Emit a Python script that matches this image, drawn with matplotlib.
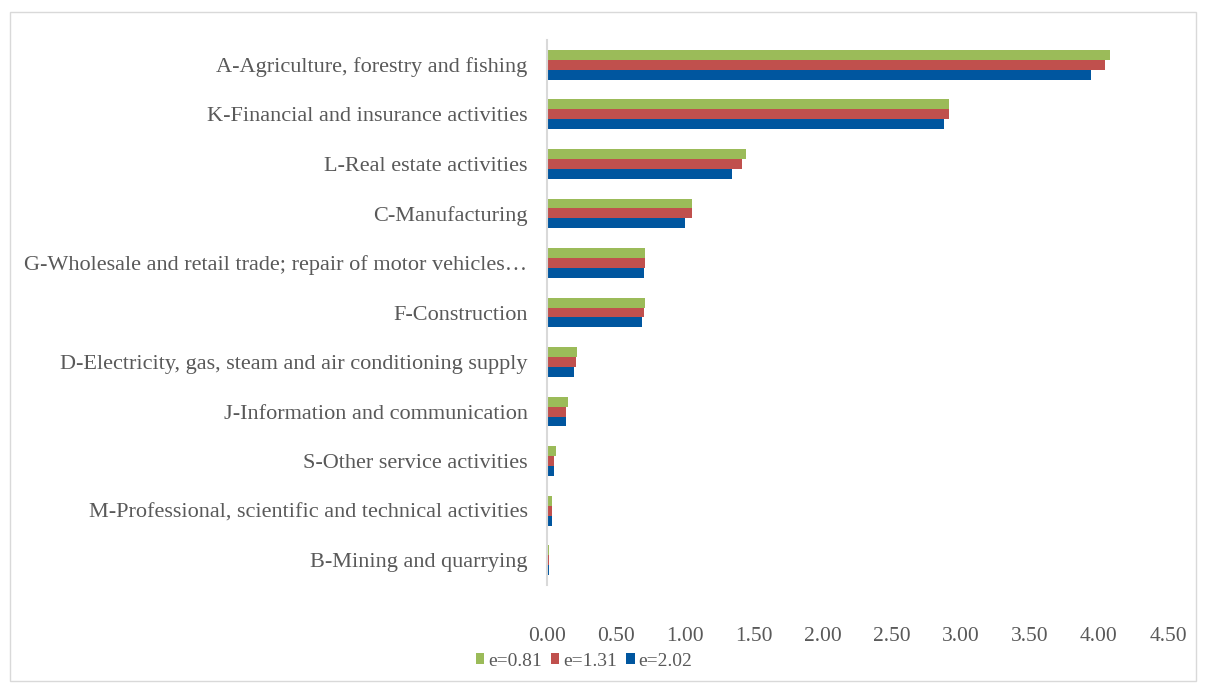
import matplotlib
matplotlib.use("Agg")
import matplotlib.pyplot as plt
import numpy as np
from matplotlib.patches import Rectangle

categories = [
    "A-Agriculture, forestry and fishing",
    "K-Financial and insurance activities",
    "L-Real estate activities",
    "C-Manufacturing",
    "G-Wholesale and retail trade; repair of motor vehicles\u2026",
    "F-Construction",
    "D-Electricity, gas, steam and air conditioning supply",
    "J-Information and communication",
    "S-Other service activities",
    "M-Professional, scientific and technical activities",
    "B-Mining and quarrying",
]
series_names = ["e=0.81", "e=1.31", "e=2.02"]
e081 = [4.08, 2.91, 1.44, 1.05, 0.71, 0.71, 0.22, 0.15, 0.065, 0.035, 0.012]
e131 = [4.04, 2.91, 1.41, 1.05, 0.71, 0.70, 0.21, 0.14, 0.05, 0.035, 0.012]
e202 = [3.94, 2.88, 1.34, 1.00, 0.70, 0.69, 0.195, 0.14, 0.05, 0.035, 0.012]
xticks = [0.0, 0.5, 1.0, 1.5, 2.0, 2.5, 3.0, 3.5, 4.0, 4.5]

colors = ["#9BBB59", "#C0504D", "#00569F"]
txt = "#595959"
font = ["Liberation Serif", "DejaVu Serif"]
plt.rcParams["font.family"] = font

W, H = 1206, 691
fig = plt.figure(figsize=(W / 100, H / 100), dpi=100)
fig.patches.append(Rectangle((10 / W, 10 / H), (W - 20) / W, (H - 22) / H,
                             transform=fig.transFigure, fill=False,
                             edgecolor="#D9D9D9", linewidth=1.0))

left, right = 547 / W, 1168 / W
top, bottom = 1 - 40 / H, 1 - 585 / H
ax = fig.add_axes([left, bottom, right - left, top - bottom])

n = len(categories)
y = np.arange(n)
bh = 0.2
for i, (vals, c, name) in enumerate(zip([e081, e131, e202], colors, series_names)):
    ax.barh(y + (i - 1) * bh, vals, height=bh, color=c, label=name, linewidth=0)

ax.set_ylim(n - 0.5, -0.5)
ax.set_xlim(0, 4.5)
ax.set_xticks(xticks)
ax.set_xticklabels([f"{v:.2f}" for v in xticks], color=txt, fontsize=15.5)
ax.set_yticks(y)
ax.set_yticklabels(categories, color=txt, fontsize=16)
ax.tick_params(axis="y", length=0, pad=14)
ax.tick_params(axis="x", length=0, pad=30)
for s in ["top", "right", "bottom"]:
    ax.spines[s].set_visible(False)
ax.spines["left"].set_color("#D9D9D9")
ax.spines["left"].set_linewidth(1.5)

leg = fig.legend(loc="center", bbox_to_anchor=(584 / W, 1 - 661 / H), ncol=3,
                 frameon=False, fontsize=14, handlelength=0.45, handleheight=0.45,
                 handletextpad=0.2, columnspacing=0.45)
for t in leg.get_texts():
    t.set_color(txt)

fig.savefig("out.png", dpi=100)
